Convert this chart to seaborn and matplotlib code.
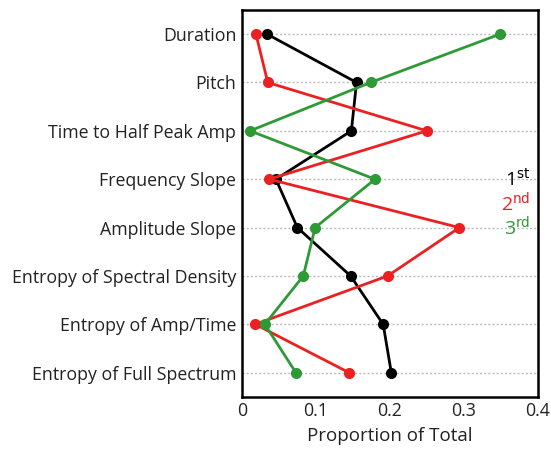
import numpy as np
import pandas as pd
import matplotlib
matplotlib.use("Agg")
import matplotlib.pyplot as plt
import seaborn as sns

features = [
    "Duration",
    "Pitch",
    "Time to Half Peak Amp",
    "Frequency Slope",
    "Amplitude Slope",
    "Entropy of Spectral Density",
    "Entropy of Amp/Time",
    "Entropy of Full Spectrum",
]
first = [0.034, 0.155, 0.148, 0.046, 0.075, 0.147, 0.191, 0.202]
second = [0.019, 0.035, 0.250, 0.037, 0.294, 0.197, 0.018, 0.145]
third = [0.349, 0.174, 0.011, 0.180, 0.099, 0.083, 0.031, 0.073]
ranks = ["1st", "2nd", "3rd"]
colors = ["#000000", "#ec2020", "#2e9a35"]

rows = []
for rank, vals in zip(ranks, [first, second, third]):
    for i, (f, v) in enumerate(zip(features, vals)):
        rows.append({"rank": rank, "pos": i, "feature": f, "value": v})
df = pd.DataFrame(rows)

sns.set_style("white")
plt.rcParams["font.family"] = ["Open Sans", "DejaVu Sans"]

fig = plt.figure(figsize=(5.51, 4.51), dpi=100)
ax = fig.add_axes([0.439, 0.12, 0.537, 0.858])

for i in range(len(features)):
    ax.axhline(i, color="#bbbbbb", lw=1.0, ls=(0, (1.5, 1.5)), zorder=0)

sns.lineplot(
    data=df, x="value", y="pos", hue="rank", palette=colors,
    orient="y", sort=False, estimator=None, marker="o",
    markersize=8, markeredgewidth=0, linewidth=2, legend=False, ax=ax,
)

ax.set_xlim(0, 0.4)
ax.set_ylim(len(features) - 0.5, -0.5)
ax.set_yticks(range(len(features)))
ax.set_yticklabels(features)
ax.set_xticks([0, 0.1, 0.2, 0.3, 0.4])
ax.set_xticklabels(["0", "0.1", "0.2", "0.3", "0.4"])
ax.tick_params(axis="both", length=0, labelsize=12.8, colors="#222222", pad=4)
ax.set_xlabel("Proportion of Total", fontsize=13.5, color="#222222", labelpad=5)
ax.set_ylabel("")
for s in ax.spines.values():
    s.set_visible(True)
    s.set_color("black")
    s.set_linewidth(1.8)

# rank key
sups = ["st", "nd", "rd"]
for k, (num, sup, c) in enumerate(zip(["1", "2", "3"], sups, colors)):
    ax.text(0.39, 3.0 + k * 0.5, f"{num}$^{{\\mathrm{{{sup}}}}}$", color=c,
            fontsize=14, ha="right", va="center")

fig.savefig("out.png", dpi=100)
